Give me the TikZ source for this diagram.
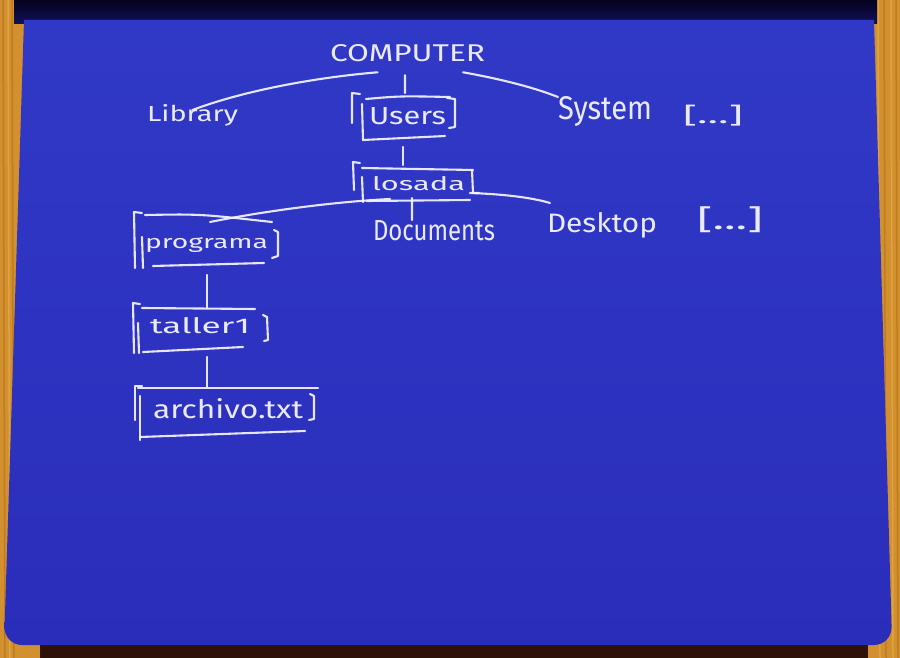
\documentclass[tikz,border=0pt]{standalone}
\usepackage{fontspec}
\setmainfont{Fira Sans}
\usepackage{graphicx}
\definecolor{wood}{HTML}{D2902F}
\definecolor{woodd}{HTML}{B56E1C}
\definecolor{woodl}{HTML}{E8B050}
\definecolor{covert}{HTML}{05031E}
\definecolor{coverb}{HTML}{12105A}
\definecolor{shadowc}{HTML}{2E1208}
\definecolor{papert}{HTML}{3039C6}
\definecolor{paperb}{HTML}{2A2DBA}
\definecolor{chalkc}{HTML}{F4F4FF}
\newcommand{\hw}[3]{\resizebox{#1pt}{#2pt}{#3}}
\begin{document}
\begin{tikzpicture}[x=1pt,y=-1pt,
  chalk/.style={draw=chalkc, line width=2.1pt, line cap=round, line join=round, opacity=0.93},
  lbl/.style={text=chalkc, inner sep=0pt, outer sep=0pt, anchor=base west, opacity=0.95, font=\fontsize{22}{26}\selectfont},
  more/.style={lbl, anchor=north west},
  boxn/.style={draw=none, inner sep=0pt, outer sep=0pt}
]
\useasboundingbox (0,0) rectangle (900,658);
% background: wood, cover, shadow, paper
\fill[wood] (0,0) rectangle (900,658);
\foreach \xx/\c in {3/woodd,8/woodl,12/woodd,878/woodl,884/woodd,891/woodl,896/woodd}
  \draw[\c, line width=1.5pt, opacity=0.6] (\xx,0) -- (\xx+2,658);
\shade[top color=covert, bottom color=coverb] (14,0) rectangle (877,24);
\fill[shadowc] (40,640) rectangle (868,658);
\shade[top color=papert, bottom color=paperb]
  (24,20) -- (874,20) -- (891.4,620) [rounded corners=18pt] -- (892,645) -- (4,645) -- (4.8,620) [sharp corners] -- cycle;

% labels
\node[lbl] (computer) at (330,62) {\hw{155}{17}{COMPUTER}};
\node[lbl] (library) at (147,122) {\hw{91}{17}{Library}};
\node[lbl] (system) at (558,120) {\hw{94}{23}{System}};
\node[more] (sysmore) at (683,105) {\resizebox*{60pt}{21pt}{[...]}};
\node[boxn, minimum width=106pt, minimum height=47pt] (users) at (405,116.5) {};
\node[lbl] (userst) at (369,125) {\hw{77}{17}{Users}};
\node[boxn, minimum width=124pt, minimum height=40pt] (losada) at (415,182) {};
\node[lbl] (losadat) at (372,190) {\hw{93}{14}{losada}};
\node[lbl] (documents) at (373,240) {\hw{122}{20}{Documents}};
\node[lbl] (desktop) at (547,233) {\hw{110}{20}{Desktop}};
\node[more] (deskmore) at (697,207) {\resizebox*{66pt}{26pt}{[...]}};
\node[boxn, minimum width=144pt, minimum height=56pt] (programa) at (205,240) {};
\node[lbl] (programat) at (145,248) {\hw{123}{11}{programa}};
\node[boxn, minimum width=134pt, minimum height=50pt] (taller) at (200,328) {};
\node[lbl] (tallert) at (150,333) {\hw{100}{16}{taller1}};
\node[boxn, minimum width=183pt, minimum height=52pt] (archivo) at (226.5,411) {};
\node[lbl] (archivot) at (153,418) {\hw{150}{20}{archivo.txt}};

% box outlines (hand-drawn brackets)
% Users
\draw[chalk] (360,94) -- (352,93) -- (352,123);
\draw[chalk] (362,104) -- (363,140) -- (445,136);
\draw[chalk] (366,99) .. controls (400,96) .. (450,97);
\draw[chalk] (447,98) -- (455,99) -- (455,127) -- (449,128);
% losada
\draw[chalk] (360,163) -- (353,162) -- (354,190);
\draw[chalk] (362,177) -- (363,202);
\draw[chalk] (362,168) -- (473,170);
\draw[chalk] (472,170) -- (473,193) -- (479,193);
\draw[chalk] (367,201) -- (470,200);
% programa
\draw[chalk] (142,213) -- (134,212) -- (135,268);
\draw[chalk] (142,237) -- (143,268);
\draw[chalk] (145,215) .. controls (200,214) .. (272,222);
\draw[chalk] (274,230) -- (278,232) -- (278,256) -- (272,258);
\draw[chalk] (153,266) -- (264,263);
% taller1
\draw[chalk] (140,304) -- (133,303) -- (134,353);
\draw[chalk] (138,323) -- (139,353);
\draw[chalk] (142,308) -- (255,309);
\draw[chalk] (263,315) -- (267,317) -- (268,340) -- (264,341);
\draw[chalk] (143,352) -- (243,347);
% archivo.txt
\draw[chalk] (142,386) -- (135,386) -- (135,420);
\draw[chalk] (140,396) -- (140,440);
\draw[chalk] (138,388) -- (318,388);
\draw[chalk] (310,394) -- (314,396) -- (314,419) -- (309,420);
\draw[chalk] (140,437) -- (305,431);

% connectors
\draw[chalk] ([xshift=-30pt,yshift=-10pt]computer.south) .. controls (310,78) and (240,92) .. ([yshift=-5pt]library.north);
\draw[chalk] ([xshift=-2.5pt,yshift=-13pt]computer.south) -- (users.north);
\draw[chalk] ([xshift=-22pt,yshift=-10pt]computer.south east) .. controls (495,78) and (530,86) .. (system.north west);
\draw[chalk] ([xshift=-2pt,yshift=-7pt]users.south) -- ([xshift=-12pt,yshift=-3pt]losada.north);
\draw[chalk] ([xshift=-25pt,yshift=3pt]losada.south) .. controls (330,202) and (260,212) .. ([xshift=5pt,yshift=-10pt]programa.north);
\draw[chalk] ([xshift=-3pt,yshift=4pt]losada.south) -- ([xshift=-22pt]documents.north);
\draw[chalk] ([xshift=-7pt,yshift=9pt]losada.south east) .. controls (500,194) and (530,197) .. ([xshift=3pt,yshift=10pt]desktop.north west);
\draw[chalk] ([xshift=2pt,yshift=-7pt]programa.south) -- ([xshift=7pt,yshift=-5pt]taller.north);
\draw[chalk] ([xshift=7pt,yshift=-4pt]taller.south) -- ([xshift=-19.5pt,yshift=-2pt]archivo.north);
\end{tikzpicture}
\end{document}
